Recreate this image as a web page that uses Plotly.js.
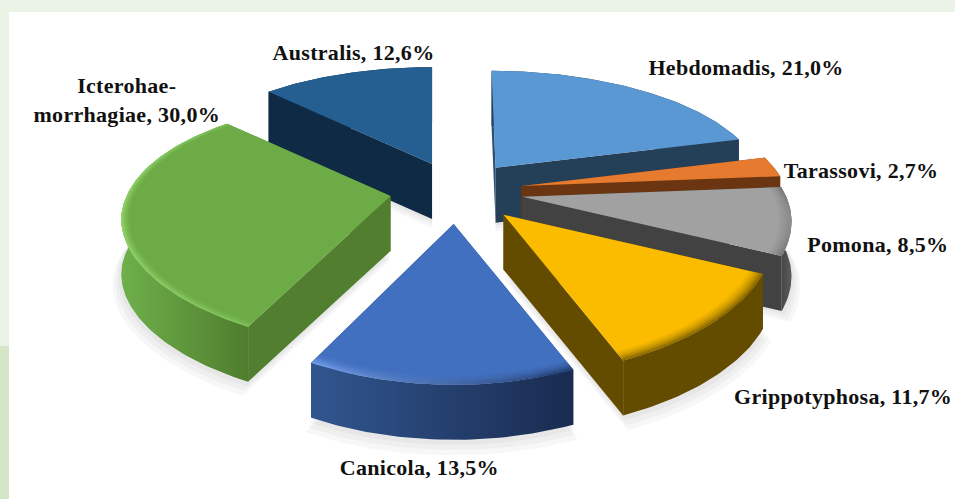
<!DOCTYPE html>
<html>
<head>
<meta charset="utf-8">
<script src="https://cdn.plot.ly/plotly-3.0.1.min.js"></script>
<style>
html,body{margin:0;padding:0;background:#fff}
#chart{width:955px;height:499px}
#chart .annotation-text{letter-spacing:0.3px}
</style>
</head>
<body>
<div id="chart"></div>
<script>
// Serovar shares, clockwise from twelve o'clock
const serovars = ['Hebdomadis', 'Tarassovi', 'Pomona', 'Grippotyphosa', 'Canicola', 'Icterohae-<br>morrhagiae', 'Australis'];
const shares = [21.0, 2.7, 8.5, 11.7, 13.5, 30.0, 12.6];

// Surface colours per slice
const topColors = ['#5a98d4', '#e67b2f', '#a1a1a1', '#fbbc00', '#4170c0', '#6dab46', '#255e91'];
const arcWallLeft = ['#243f58', '#6a3510', '#454545', '#634c00', '#31568f', '#6fb04b', '#0f2a44'];
const arcWallRight = ['#243f58', '#6a3510', '#5c5c5c', '#634c00', '#192b50', '#4f7d2d', '#0f2a44'];
const startWall = ['#2b5072', '#6a3510', '#424242', '#634c00', '#31568f', '#527f2f', '#0f2a44'];
const endWall = ['#243f58', '#6a3510', '#424242', '#634c00', '#192b50', '#527f2f', '#0f2a44'];
const rimLeft = [null, null, '#6a6a6a', '#7a5d00', '#7aa4ee', '#96d86e', null];
const rimRight = [null, null, '#8a8a8a', '#7a5d00', '#1c3564', '#7fc35a', null];
const rimWidth = [1, 1, 1, 1, 1, 0.6, 1];

// Label placement in plot units: [x, y]
const labelAnchors = [[746, 67], [861, 170], [878, 244], [842.5, 396], [419, 467], [126, 100], [353.5, 52]];

// Projection of the tilted disc
const view = {cx: 456.5, cy: 191, a: 260, b: 121, kx: 0.2, ky: 0.248, bulge: 0.015, depth: 55, explode: 0.255};
const leanBack = [-4, 0, 0, 0, 0, 0, 0];
const frontSquash = [1, 1, 1, 1, 1, 0.94, 1];

function project(angleDeg, r) {
  const t = angleDeg * Math.PI / 180;
  const X = r * Math.sin(t), Y = r * Math.cos(t);
  const widen = 1 + view.bulge * X * X;
  return [view.a * X * widen / (1 + view.kx * Y), -view.b * Y / (1 + view.ky * Y), Y];
}

function arc(apex, from, to, r, dy, sliceIndex) {
  const pts = [];
  const n = Math.max(2, Math.ceil(to - from));
  for (let i = 0; i <= n; i++) {
    const p = project(from + (to - from) * i / n, r);
    const shift = p[2] > 0 ? leanBack[sliceIndex] * Math.pow(p[2], 3) : 0;
    const vy = p[2] < 0 ? p[1] * frontSquash[sliceIndex] : p[1];
    pts.push([apex[0] + p[0] + shift, apex[1] + vy + dy]);
  }
  return pts;
}

function poly(pts, fill, opacity) {
  const trace = {
    type: 'scatter', mode: 'lines', hoverinfo: 'skip', showlegend: false,
    x: pts.map(p => p[0]).concat(pts[0][0]),
    y: pts.map(p => p[1]).concat(pts[0][1]),
    fill: 'toself', line: {width: 0}, opacity: opacity === undefined ? 1 : opacity
  };
  if (Array.isArray(fill)) {
    trace.fillgradient = {type: 'horizontal', colorscale: [[0, fill[0]], [1, fill[1]]]};
    trace.fillcolor = fill[0];
  } else {
    trace.fillcolor = fill;
  }
  return trace;
}

const total = shares.reduce((s, v) => s + v, 0);
let running = 0;
const slices = shares.map((v, i) => {
  const from = running / total * 360;
  running += v;
  const to = running / total * 360;
  const off = project((from + to) / 2, view.explode);
  return {i, from, to, apex: [view.cx + off[0], view.cy + off[1]]};
});

const shadows = [], solids = [];

// Soft ground shadow under the front slices
slices.forEach(s => {
  [[9, 1.03], [6, 1.02], [3, 1.01]].forEach(([drop, grow]) => {
    const rim = arc(s.apex, s.from, s.to, grow, view.depth + drop, s.i);
    shadows.push(poly([[s.apex[0], s.apex[1] + view.depth + drop]].concat(rim), '#000000', 0.03));
  });
});

// Painter's order: far slices first, near slices over them
[0, 6, 1, 2, 3, 4, 5].forEach(idx => {
  const s = slices[idx], i = s.i, d = view.depth, A = s.apex;
  const outer = arc(A, s.from, s.to, 1, 0, i);
  const lower = arc(A, s.from, s.to, 1, d, i);
  const first = outer[0], last = outer[outer.length - 1];
  const drop = p => [p[0], p[1] + d];

  solids.push(poly([A, last, drop(last), drop(A)], endWall[i]));
  solids.push(poly([A, first, drop(first), drop(A)], startWall[i]));
  solids.push(poly(outer.concat(lower.slice().reverse()), [arcWallLeft[i], arcWallRight[i]]));
  solids.push(poly([A].concat(outer), topColors[i]));

  // Rounded rim along the outer edge of the top face
  if (rimLeft[i]) {
    [[0.045, 0.12], [0.035, 0.16], [0.025, 0.22], [0.017, 0.3], [0.01, 0.38], [0.005, 0.45]].forEach(([w, op]) => {
      const strip = outer.concat(arc(A, s.from, s.to, 1 - w * rimWidth[i], 0, i).reverse());
      solids.push(poly(strip, [rimLeft[i], rimRight[i]], op));
    });
  }
});

const decimal = v => v.toFixed(1).replace('.', ',');
const annotations = serovars.map((name, i) => ({
  x: labelAnchors[i][0], y: labelAnchors[i][1], xref: 'x', yref: 'y',
  text: name + ', ' + decimal(shares[i]) + '%',
  showarrow: false, xanchor: 'center', yanchor: 'middle', align: 'center',
  font: {family: '"Liberation Serif", serif', size: 22, color: '#111111', weight: 700}
}));

const band = (x0, y0, x1, y1, color) => ({
  type: 'rect', layer: 'below', xref: 'x', yref: 'y', x0, y0, x1, y1,
  fillcolor: color, line: {width: 0}
});

Plotly.newPlot('chart', shadows.concat(solids), {
  width: 955, height: 499,
  margin: {l: 0, r: 0, t: 0, b: 0},
  paper_bgcolor: '#ffffff', plot_bgcolor: '#ffffff',
  xaxis: {range: [0, 955], visible: false, fixedrange: true},
  yaxis: {range: [499, 0], visible: false, fixedrange: true},
  showlegend: false,
  shapes: [
    band(0, 0, 955, 12, '#ebf3e6'),
    band(0, 12, 9, 346, '#ebf3e6'),
    band(0, 346, 9, 499, '#d5e5c8')
  ],
  annotations
}, {staticPlot: true, displayModeBar: false});
</script>
</body>
</html>
